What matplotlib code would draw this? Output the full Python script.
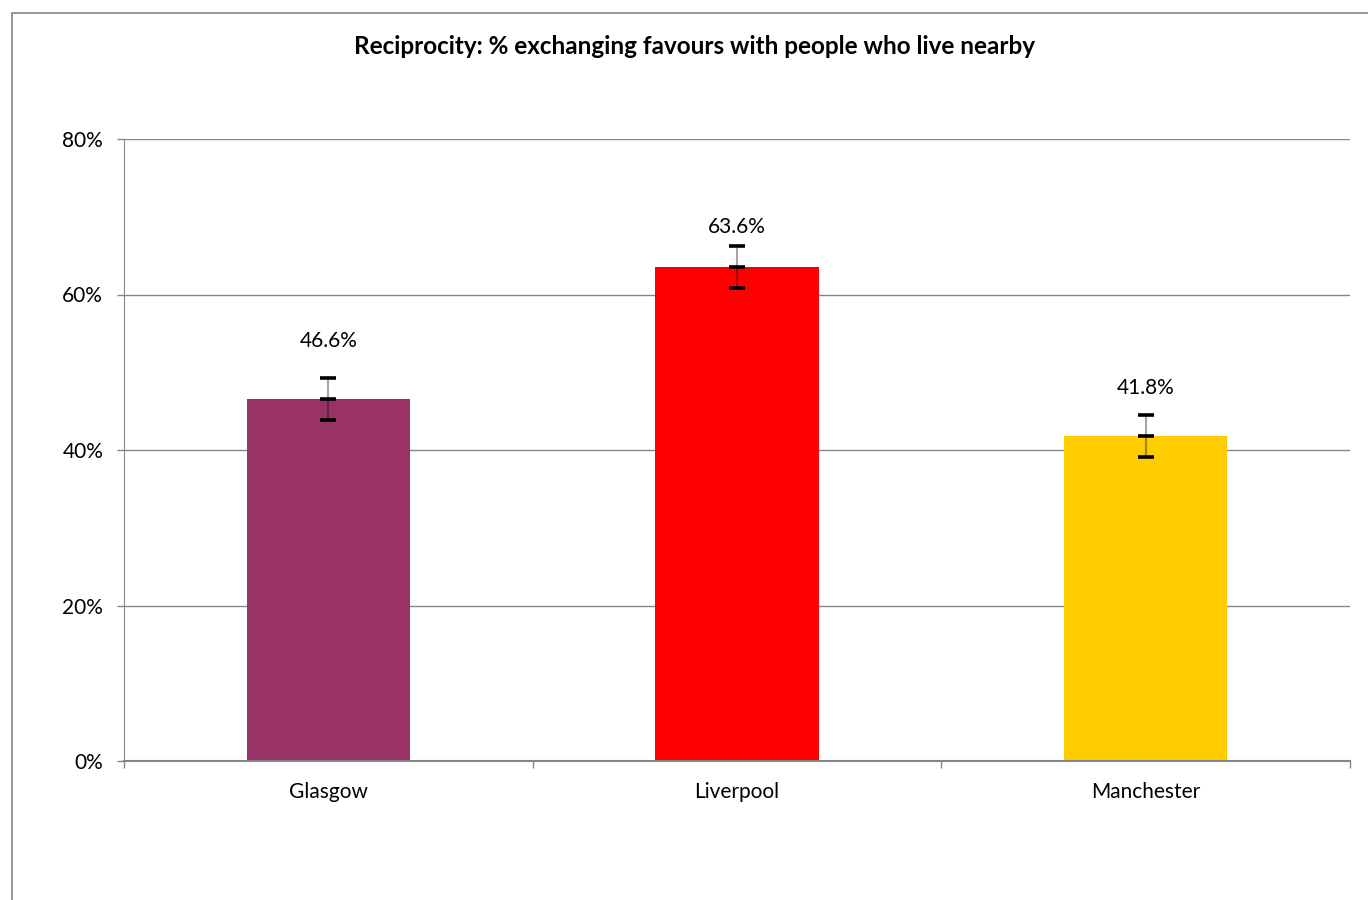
import matplotlib
matplotlib.use("Agg")
import matplotlib.pyplot as plt
from matplotlib.patches import Rectangle
from matplotlib.ticker import FuncFormatter, FixedLocator
import numpy as np

plt.rcParams['font.family'] = ['Lato', 'DejaVu Sans']

categories = ["Glasgow", "Liverpool", "Manchester"]
values = [46.6, 63.6, 41.8]
errors = [2.7, 2.7, 2.75]
colors = ["#993366", "#FF0000", "#FFCC00"]
label_offsets = [26.5, 13, 19.5]  # points above the upper error cap
title = "Reciprocity: % exchanging favours with people who live nearby"

fig = plt.figure(figsize=(13.68, 9.0), dpi=100)
ax = fig.add_axes([124/1368, 1-761/900, (1350-124)/1368, (761-139)/900])

# outer chart border
fig.patches.append(Rectangle((12/1368, -0.05), 1.2, 1.05 - 13/900,
                             transform=fig.transFigure, fill=False,
                             edgecolor="#868686", linewidth=1.2, zorder=0))

x = np.arange(len(categories))
ax.bar(x, values, width=0.40, color=colors, zorder=2)

eb = ax.errorbar(x, values, yerr=errors, fmt='none', ecolor=(0, 0, 0, 0.35),
                 elinewidth=1.5, capsize=5.5, capthick=2.6, zorder=3)
for cl in eb[1]:
    cl.set_markeredgecolor("black")
ax.plot(x, values, linestyle='none', marker='_', markersize=11,
        markeredgewidth=2.6, color='black', zorder=4)

for xi, v, e, off in zip(x, values, errors, label_offsets):
    ax.annotate(f"{v:.1f}%", (xi, v + e), xytext=(0, off),
                textcoords="offset points", ha='center', va='center',
                fontsize=15, color="black")

ax.set_xlim(-0.5, len(categories) - 0.5)
ax.set_ylim(0, 80)
ax.yaxis.set_major_locator(FixedLocator([0, 20, 40, 60, 80]))
ax.yaxis.set_major_formatter(FuncFormatter(lambda v, p: f"{v:.0f}%"))
ax.set_xticks(x)
ax.set_xticklabels(categories)
ax.set_xticks(np.arange(-0.5, len(categories)), minor=True)
ax.tick_params(axis='x', which='major', length=0, pad=15, labelsize=15)
ax.tick_params(axis='x', which='minor', length=5, color="#868686", width=1)
ax.tick_params(axis='y', length=5, color="#868686", width=1, pad=10,
               labelsize=15)

ax.grid(axis='y', color="#868686", linewidth=1, zorder=0)
ax.set_axisbelow(True)
for s in ['top', 'right']:
    ax.spines[s].set_visible(False)
ax.spines['left'].set_color("#868686")
ax.spines['bottom'].set_color("#868686")
ax.spines['bottom'].set_linewidth(1.5)

fig.text(695/1368, 1-47/900, title, ha='center', va='center',
         fontsize=17.5, fontweight='bold')

fig.savefig("out.png", dpi=100)
